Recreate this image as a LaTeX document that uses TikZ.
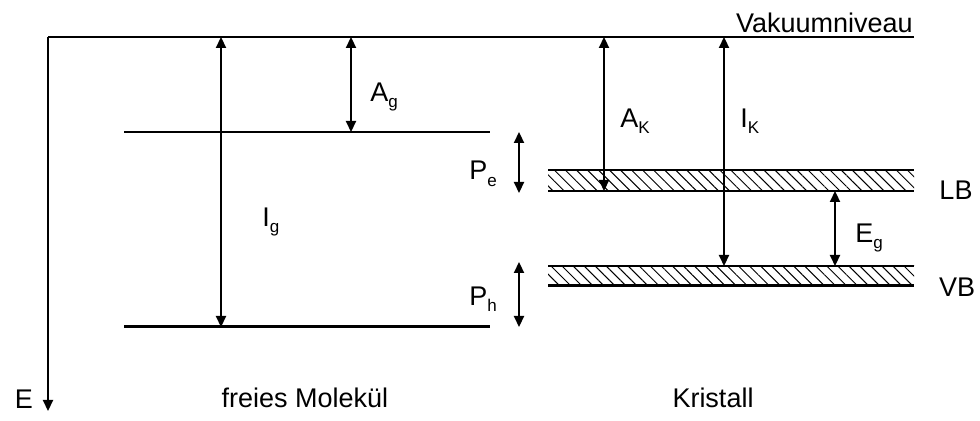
\documentclass[tikz,border=0pt]{standalone}
\usepackage{fontspec}
\setmainfont{Liberation Sans}
\usetikzlibrary{arrows.meta,patterns.meta}
\newcommand{\sbs}[1]{\raisebox{-0.45ex}{\fontsize{8.5pt}{9pt}\selectfont #1}}
\begin{document}
\begin{tikzpicture}[x=0.5pt,y=-0.5pt,
  lvl/.style={line width=1.1pt},
  thicklvl/.style={line width=1.5pt},
  dbl/.style={line width=1.1pt,{Triangle[length=5.5pt,width=5pt]}-{Triangle[length=5.5pt,width=5pt]}},
  sgl/.style={line width=1.1pt,-{Triangle[length=5.5pt,width=5pt]}},
  lbl/.style={font=\fontsize{13.5pt}{15pt}\selectfont,inner sep=0pt},
  hatch/.style={pattern={Lines[angle=-45,distance=3.9pt,line width=0.5pt]}}]
\useasboundingbox (0,0) rectangle (980,421);
% coordinates
\coordinate (vl) at (48,37);
\coordinate (vr) at (914,37);
\coordinate (eend) at (48,411);
% vacuum level and energy axis
\draw[lvl] (vr) -- (vl);
\draw[sgl] (vl) -- (eend);
\node[lbl,anchor=south east] (vak) at (913,33) {Vakuumniveau};
\node[lbl] (E) at (24,399) {E};
% molecule levels
\coordinate (m1l) at (124,132); \coordinate (m1r) at (490,132);
\coordinate (m2l) at (124,327); \coordinate (m2r) at (490,327);
\draw[lvl] (m1l) -- (m1r);
\draw[thicklvl] (m2l) -- (m2r);
% bands
\fill[hatch] (548,170) rectangle (914,191);
\fill[hatch] (548,266) rectangle (914,286);
\coordinate (lbt1) at (548,170); \coordinate (lbt2) at (914,170);
\coordinate (lbb1) at (548,191); \coordinate (lbb2) at (914,191);
\coordinate (vbt1) at (548,266); \coordinate (vbt2) at (914,266);
\coordinate (vbb1) at (548,286); \coordinate (vbb2) at (914,286);
\draw[lvl] (lbt1) -- (lbt2);
\draw[lvl] (lbb1) -- (lbb2);
\draw[lvl] (vbt1) -- (vbt2);
\draw[thicklvl] (vbb1) -- (vbb2);
\node[lbl] (LB) at (956,190) {LB};
\node[lbl] (VB) at (957,287) {VB};
% arrows molecule
\coordinate (ig1) at (221,37); \coordinate (ig2) at (221,327);
\draw[dbl] (ig1) -- (ig2);
\node[lbl,anchor=west] (Ig) at (262,222) {I\sbs{g}};
\coordinate (ag1) at (351,37); \coordinate (ag2) at (351,132);
\draw[dbl] (ag1) -- (ag2);
\node[lbl,anchor=west] (Ag) at (370,97) {A\sbs{g}};
\coordinate (pe1) at (519,132); \coordinate (pe2) at (519,193);
\draw[dbl] (pe1) -- (pe2);
\node[lbl,anchor=west] (Pe) at (469,174) {P\sbs{e}};
\coordinate (ph1) at (519,262); \coordinate (ph2) at (519,327);
\draw[dbl] (ph1) -- (ph2);
\node[lbl,anchor=west] (Ph) at (469,299) {P\sbs{h}};
% arrows crystal
\coordinate (ak1) at (604,37); \coordinate (ak2) at (604,191);
\draw[dbl] (ak1) -- (ak2);
\node[lbl,anchor=west] (AK) at (620,121) {A\sbs{K}};
\coordinate (ik1) at (724,37); \coordinate (ik2) at (724,266);
\draw[dbl] (ik1) -- (ik2);
\node[lbl,anchor=west] (IK) at (740,121) {I\sbs{K}};
\coordinate (eg1) at (835,191); \coordinate (eg2) at (835,266);
\draw[dbl] (eg1) -- (eg2);
\node[lbl,anchor=west] (Eg) at (855,238) {E\sbs{g}};
% captions
\node[lbl] (mol) at (305,398) {freies Molekül};
\node[lbl] (kri) at (713,398) {Kristall};
\end{tikzpicture}
\end{document}
